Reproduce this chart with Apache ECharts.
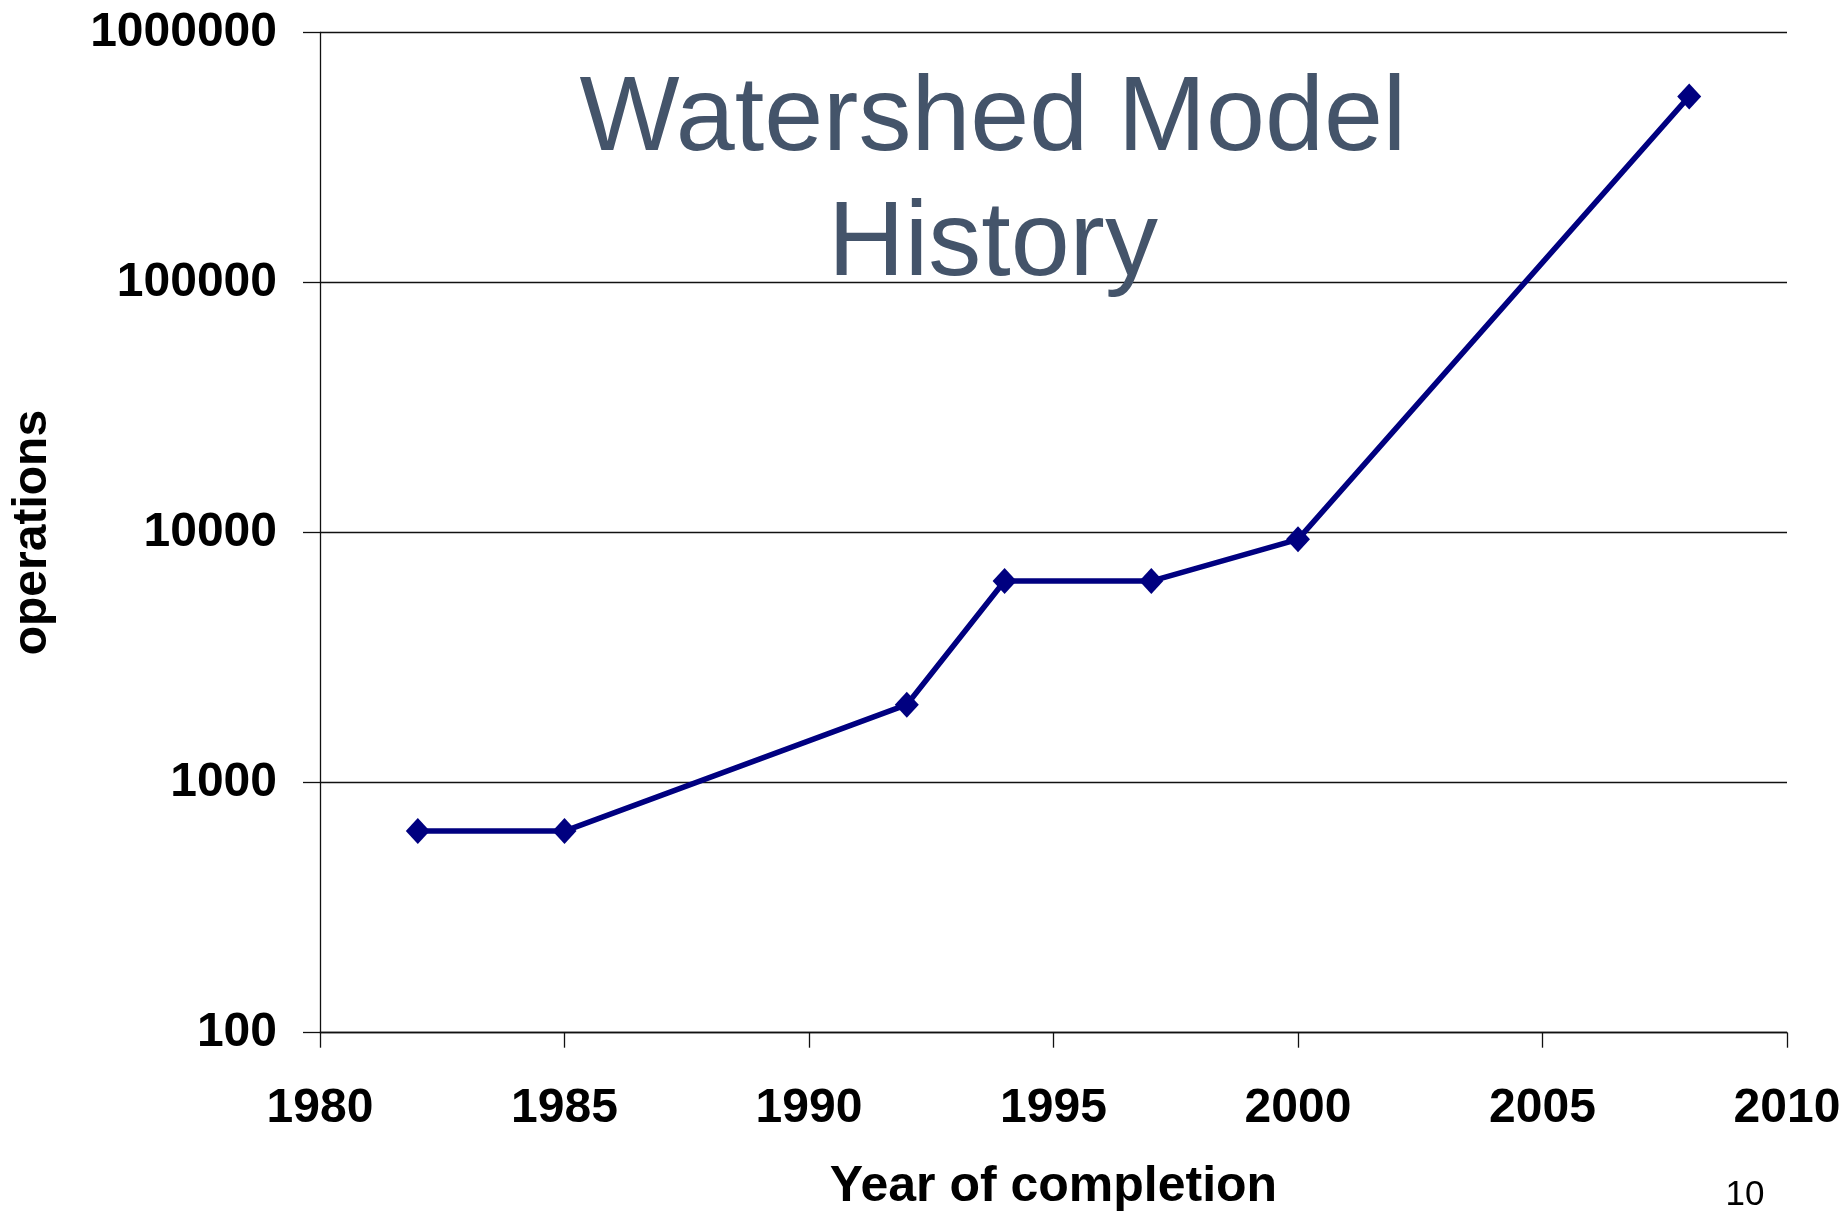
<!DOCTYPE html>
<html>
<head>
<meta charset="utf-8">
<title>Watershed Model History</title>
<script src="https://cdn.jsdelivr.net/npm/echarts@6/dist/echarts.min.js"></script>
<style>
  html, body { margin: 0; padding: 0; background: #fff; }
  #chart { width: 1843px; height: 1212px; }
</style>
</head>
<body>
<div id="chart"></div>
<script>
// data
var years = [1982, 1985, 1992, 1994, 1997, 2000, 2008];
var operations = [640, 640, 2050, 6400, 6400, 9400, 555000];
var yTicks = [100, 1000, 10000, 100000, 1000000];

var FONT = '"Liberation Sans", Arial, sans-serif';

var points = years.map(function (y, i) { return [y, operations[i]]; });

var chart = echarts.init(document.getElementById('chart'));
chart.setOption({
	animation: false,
	backgroundColor: '#ffffff',
	title: {
		text: 'Watershed Model\nHistory',
		left: 993,
		top: 58,
		padding: 0,
		textAlign: 'center',
		textStyle: {
			fontFamily: FONT,
			fontSize: 106,
			fontWeight: 'normal',
			lineHeight: 125,
			color: '#44546a'
		}
	},
	grid: {
		left: 320,
		right: 56,
		top: 32.5,
		bottom: 179.3,
		containLabel: false,
		outerBoundsMode: 'none'
	},
	xAxis: {
		type: 'value',
		min: 1980,
		max: 2010,
		interval: 5,
		name: 'Year of completion',
		nameLocation: 'middle',
		nameGap: 130,
		nameTextStyle: {
			fontFamily: FONT,
			fontSize: 50,
			fontWeight: 'bold',
			color: '#000'
		},
		axisLine: { show: true, lineStyle: { color: '#111', width: 1.3 } },
		axisTick: { show: true, inside: false, length: 15, lineStyle: { color: '#111', width: 1.3 } },
		axisLabel: {
			show: true,
			margin: 52,
			fontFamily: FONT,
			fontSize: 48,
			fontWeight: 'bold',
			color: '#000',
			showMinLabel: true,
			showMaxLabel: true,
			formatter: function (v) { return String(v); }
		},
		splitLine: { show: false }
	},
	yAxis: {
		type: 'log',
		logBase: 10,
		min: yTicks[0],
		max: yTicks[yTicks.length - 1],
		name: 'operations',
		nameLocation: 'middle',
		nameGap: 263,
		nameTextStyle: {
			fontFamily: FONT,
			fontSize: 48,
			fontWeight: 'bold',
			color: '#000'
		},
		axisLine: { show: true, lineStyle: { color: '#111', width: 1.3 } },
		axisTick: { show: true, inside: false, length: 17, lineStyle: { color: '#111', width: 1.3 } },
		axisLabel: {
			margin: 43,
			fontFamily: FONT,
			fontSize: 48,
			fontWeight: 'bold',
			color: '#000',
			formatter: function (v) { return String(Math.round(v)); }
		},
		splitLine: { show: true, lineStyle: { color: '#111', width: 1.3 } }
	},
	graphic: [{
		type: 'text',
		x: 1745,
		y: 1195,
		style: {
			text: '10',
			font: '35px "Liberation Sans", Arial, sans-serif',
			fill: '#000',
			textAlign: 'center',
			textVerticalAlign: 'middle'
		}
	}],
	series: [{
		name: 'operations',
		type: 'line',
		data: points,
		symbol: 'diamond',
		symbolSize: [24, 26],
		showAllSymbol: true,
		lineStyle: { color: '#000080', width: 5.5 },
		itemStyle: { color: '#000080' }
	}]
});
</script>
</body>
</html>
